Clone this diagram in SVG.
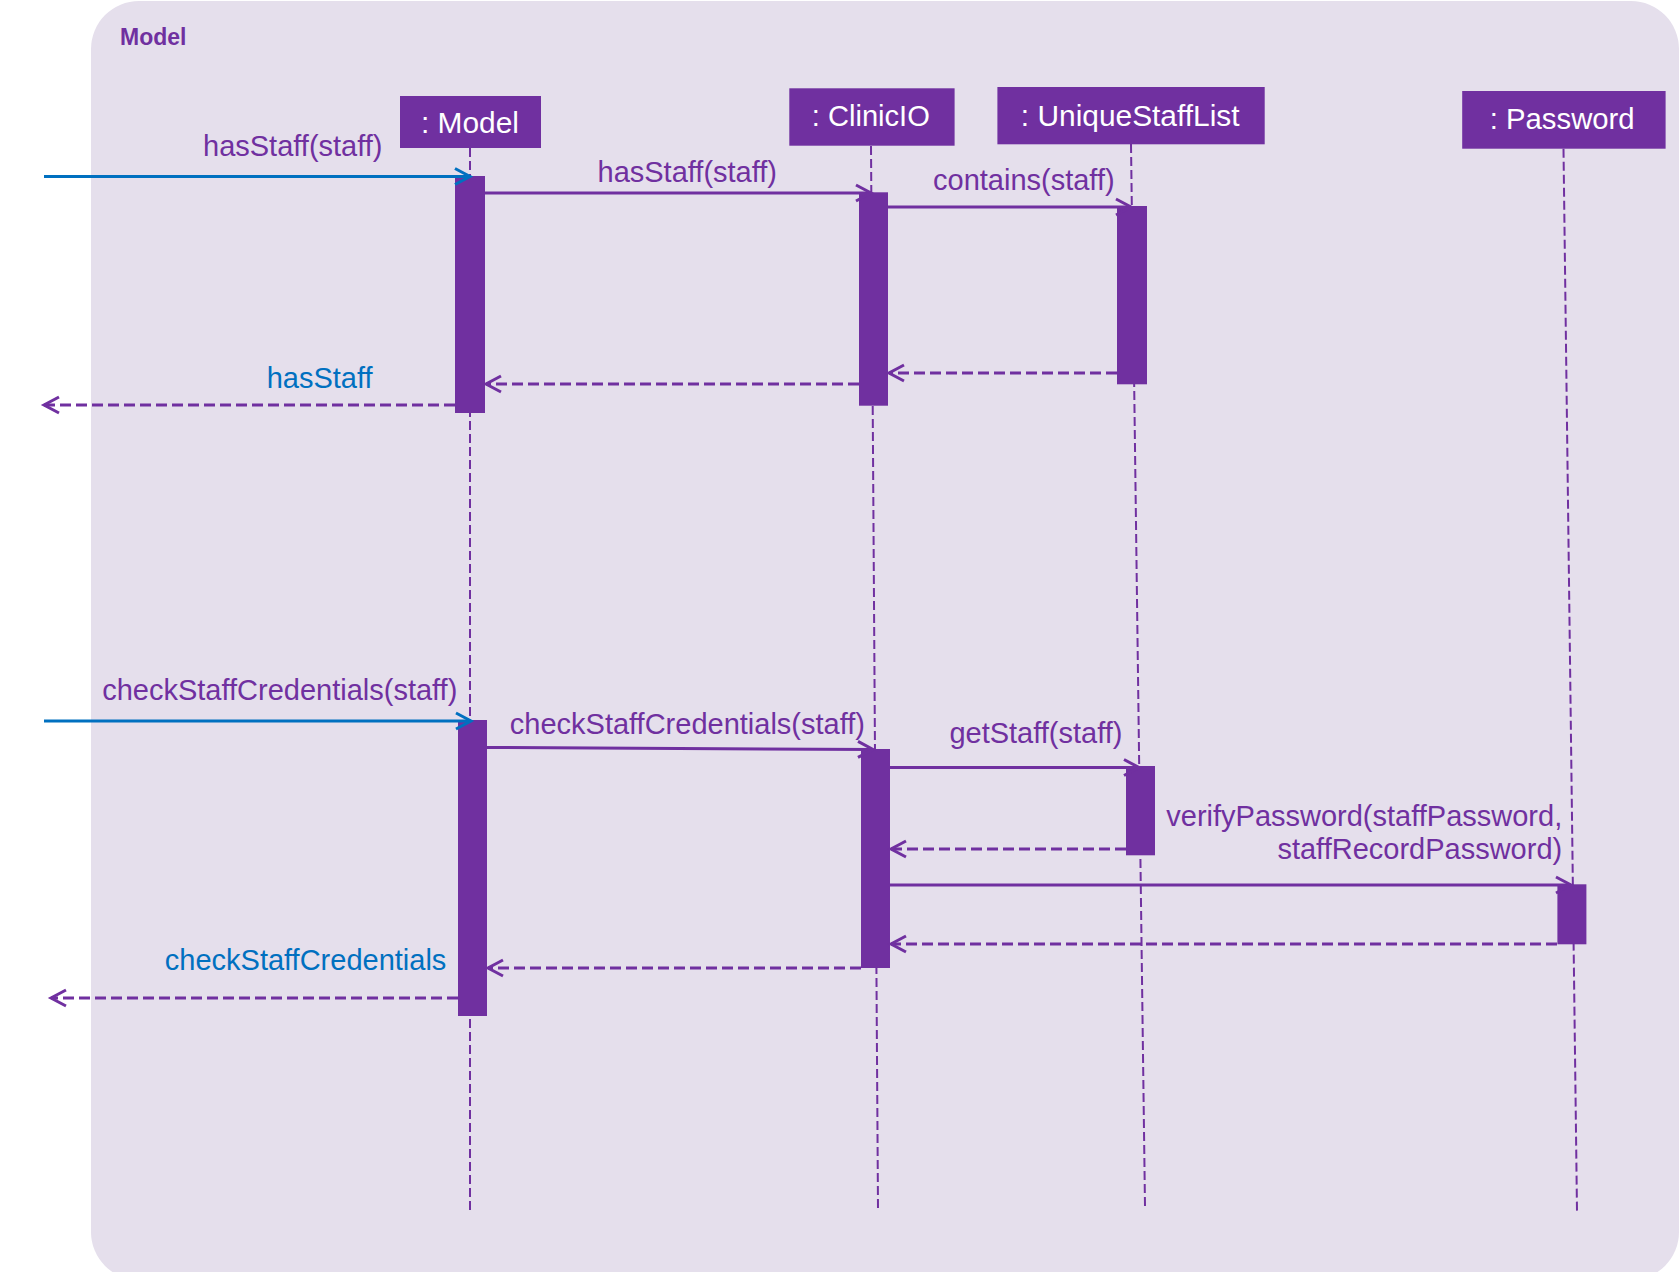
<svg xmlns="http://www.w3.org/2000/svg" width="1679" height="1272" viewBox="0 0 1679 1272">
<style>
.frame{fill:#E5DFEC;}
.title{font-family:"Liberation Sans",Arial,sans-serif;font-weight:bold;font-size:23px;fill:#7030A0;}
.box{fill:#7030A0;}
.boxlbl{font-family:"Liberation Sans",Arial,sans-serif;font-size:29px;fill:#FFFFFF;text-anchor:middle;}
.life{stroke:#7030A0;stroke-width:2;stroke-dasharray:9 4;fill:none;}
.bar{fill:#7030A0;}
.msg{stroke:#7030A0;stroke-width:3;fill:none;marker-end:url(#ap);}
.in{stroke:#0070C0;stroke-width:3;fill:none;marker-end:url(#ab);}
.ret{stroke:#7030A0;stroke-width:3;fill:none;stroke-dasharray:11 5;marker-end:url(#ap);}
.lbl{font-family:"Liberation Sans",Arial,sans-serif;font-size:29px;fill:#7030A0;}
.lblb{font-family:"Liberation Sans",Arial,sans-serif;font-size:29px;fill:#0070C0;}
</style>
<defs>
<marker id="ap" markerUnits="userSpaceOnUse" markerWidth="20" markerHeight="20" refX="0" refY="0" viewBox="-17 -10 20 20" orient="auto" overflow="visible">
<path d="M-15,-8 L0,0 L-15,8" fill="none" stroke="#7030A0" stroke-width="3" stroke-dasharray="none"/>
</marker>
<marker id="ab" markerUnits="userSpaceOnUse" markerWidth="20" markerHeight="20" refX="0" refY="0" viewBox="-17 -10 20 20" orient="auto" overflow="visible">
<path d="M-15,-8 L0,0 L-15,8" fill="none" stroke="#0070C0" stroke-width="3" stroke-dasharray="none"/>
</marker>
</defs>

<g id="frame">
<rect class="frame" x="91" y="1" width="1588" height="1279" rx="48" ry="48"/>
<text class="title" x="120" y="45">Model</text>
</g>

<g id="model">
<line class="life" x1="470" y1="148" x2="470" y2="1210"/>
<rect class="box" x="400" y="96" width="141" height="52"/>
<text class="boxlbl" x="470" y="132.7" textLength="98" lengthAdjust="spacingAndGlyphs">: Model</text>
<rect class="bar" x="455" y="176" width="30" height="237"/>
<rect class="bar" x="458" y="720" width="29" height="296"/>
</g>

<g id="clinicio">
<line class="life" x1="871" y1="146" x2="878" y2="1208"/>
<rect class="box" x="789.3" y="88.3" width="165.3" height="57.4"/>
<text class="boxlbl" x="870.8" y="125.7" textLength="118" lengthAdjust="spacingAndGlyphs">: ClinicIO</text>
<rect class="bar" x="859" y="192.3" width="29" height="213.4"/>
<rect class="bar" x="861" y="749" width="29" height="219"/>
</g>

<g id="uniquestafflist">
<line class="life" x1="1131" y1="144" x2="1145" y2="1206"/>
<rect class="box" x="997.4" y="87" width="267.3" height="57.3"/>
<text class="boxlbl" x="1130.2" y="125.7" textLength="218.7" lengthAdjust="spacingAndGlyphs">: UniqueStaffList</text>
<rect class="bar" x="1117" y="206" width="30" height="178.3"/>
<rect class="bar" x="1126" y="766" width="29" height="89.3"/>
</g>

<g id="password">
<line class="life" x1="1563.5" y1="148.7" x2="1577" y2="1210.7"/>
<rect class="box" x="1462.2" y="91" width="203.4" height="57.7"/>
<text class="boxlbl" x="1562.2" y="129.3" textLength="144.8" lengthAdjust="spacingAndGlyphs">: Password</text>
<rect class="bar" x="1557.4" y="884.3" width="29" height="60"/>
</g>

<g id="connectors">
<line class="in" x1="44" y1="176.5" x2="470" y2="176.5"/>
<text class="lbl" x="203" y="156">hasStaff(staff)</text>
<line class="msg" x1="485" y1="193" x2="871" y2="193"/>
<text class="lbl" x="597.5" y="182">hasStaff(staff)</text>
<line class="msg" x1="888" y1="207" x2="1131" y2="207"/>
<text class="lbl" x="933" y="190">contains(staff)</text>
<line class="ret" x1="1117" y1="373" x2="889" y2="373"/>
<line class="ret" x1="859" y1="384" x2="486" y2="384"/>
<line class="ret" x1="455" y1="405" x2="44" y2="405"/>
<text class="lblb" x="266.7" y="387.7">hasStaff</text>

<line class="in" x1="44" y1="721" x2="471" y2="721"/>
<text class="lbl" x="102.2" y="700">checkStaffCredentials(staff)</text>
<line class="msg" x1="487" y1="747.5" x2="873" y2="749.5"/>
<text class="lbl" x="509.8" y="734">checkStaffCredentials(staff)</text>
<line class="msg" x1="890" y1="767.5" x2="1139" y2="767.5"/>
<text class="lbl" x="949.4" y="742.7">getStaff(staff)</text>
<line class="ret" x1="1126" y1="849" x2="891" y2="849"/>
<line class="msg" x1="890" y1="885" x2="1571" y2="885"/>
<text class="lbl" x="1562.2" y="826" text-anchor="end">verifyPassword(staffPassword,</text>
<text class="lbl" x="1562.2" y="859.3" text-anchor="end">staffRecordPassword)</text>
<line class="ret" x1="1557" y1="944" x2="891" y2="944"/>
<line class="ret" x1="861" y1="968" x2="488" y2="968"/>
<line class="ret" x1="458" y1="998" x2="51" y2="998"/>
<text class="lblb" x="164.8" y="970">checkStaffCredentials</text>
</g>
</svg>
